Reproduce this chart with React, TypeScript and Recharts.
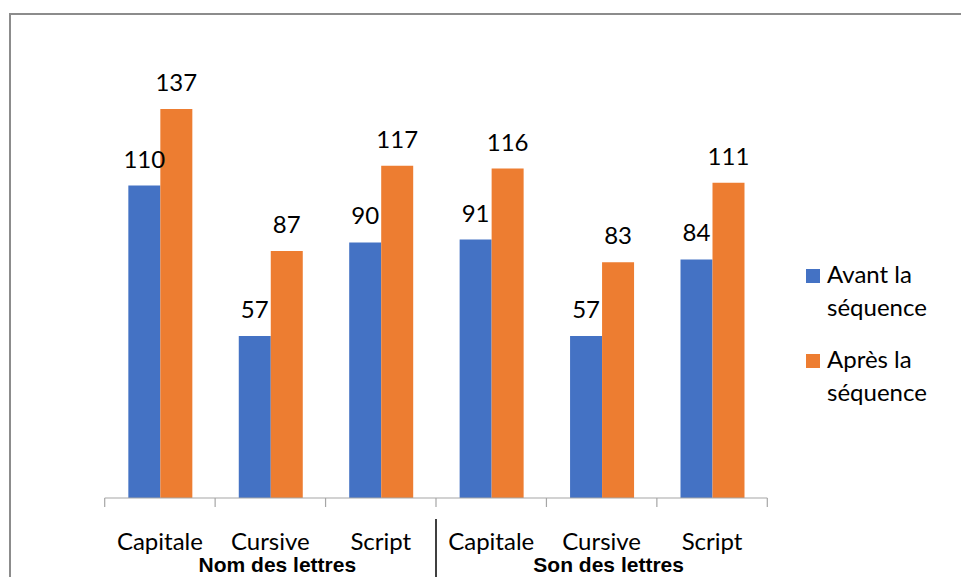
import React from 'react';
import { BarChart, Bar, XAxis, YAxis, LabelList } from 'recharts';

const categories = ['Capitale', 'Cursive', 'Script', 'Capitale', 'Cursive', 'Script'];
const groups = ['Nom des lettres', 'Son des lettres'];
const avant = [110, 57, 90, 91, 57, 84];
const apres = [137, 87, 117, 116, 83, 111];
const seriesNames = ['Avant la séquence', 'Après la séquence'];
const colors = ['#4472C4', '#ED7D31'];

const data = categories.map((c, i) => ({ cat: c, avant: avant[i], apres: apres[i] }));

const FONT = 'Lato, "Open Sans", sans-serif';

const CategoryTick = (props: any) => {
  const { x, y, payload, index } = props;
  const half = payload.offset || 0;
  const last = categories.length - 1;
  const groupIdx = Math.floor(index / 3);
  return (
    <g>
      <line x1={x - half} y1={y} x2={x - half} y2={y + 9} stroke="#a6a6a6" strokeWidth={1.2} />
      {index === last && (
        <line x1={x + half} y1={y} x2={x + half} y2={y + 9} stroke="#a6a6a6" strokeWidth={1.2} />
      )}
      <text x={x} y={y + 52} textAnchor="middle" fontSize={24} fontFamily={FONT} fill="#000">
        {payload.value}
      </text>
      {index % 3 === 1 && (
        <text
          x={x + 7}
          y={y + 74}
          textAnchor="middle"
          fontSize={21}
          fontWeight="bold"
          fontFamily='"Liberation Sans", Arial, sans-serif'
          fill="#000"
        >
          {groups[groupIdx]}
        </text>
      )}
      {index === 3 && (
        <line x1={x - half} y1={y + 21} x2={x - half} y2={y + 90} stroke="#000" strokeWidth={1.5} />
      )}
    </g>
  );
};

const LegendBox = () => (
  <div
    style={{
      position: 'absolute',
      left: 806,
      top: 257,
      width: 150,
      fontFamily: FONT,
      fontSize: 24,
      color: '#000',
    }}
  >
    {seriesNames.map((n, i) => {
      const words = n.split(' ');
      const l1 = words.slice(0, 2).join(' ');
      const l2 = words.slice(2).join(' ');
      return (
        <div key={n} style={{ position: 'relative', paddingLeft: 21, lineHeight: '33px', marginBottom: 19 }}>
          <div
            style={{ position: 'absolute', left: 0, top: 12, width: 14, height: 14, background: colors[i] }}
          />
          <div>{l1}</div>
          <div>{l2}</div>
        </div>
      );
    })}
  </div>
);

export default function App() {
  return (
    <div style={{ position: 'absolute', left: 0, top: 0, width: 961, height: 577, overflow: 'hidden', background: '#fff' }}>
      <div
        style={{
          position: 'absolute',
          left: 9,
          top: 13,
          width: 960,
          height: 580,
          border: '2px solid #8c8c8c',
          boxSizing: 'border-box',
        }}
      />
      <div style={{ position: 'absolute', left: 0, top: 0 }}>
        <BarChart
          width={961}
          height={577}
          data={data}
          margin={{ top: 43.6, right: 193.7, bottom: 9, left: 104.7 }}
          barCategoryGap="21.4%"
          barGap={0}
        >
          <XAxis
            dataKey="cat"
            height={70}
            axisLine={{ stroke: '#a6a6a6', strokeWidth: 1.2 }}
            tickLine={false}
            tickSize={0}
            tickMargin={0}
            interval={0}
            tick={<CategoryTick />}
          />
          <YAxis hide domain={[0, 160]} />
          <Bar dataKey="avant" name={seriesNames[0]} fill={colors[0]} isAnimationActive={false}>
            <LabelList dataKey="avant" position="top" offset={18} fontSize={24} fontFamily={FONT} fill="#000" />
          </Bar>
          <Bar dataKey="apres" name={seriesNames[1]} fill={colors[1]} isAnimationActive={false}>
            <LabelList dataKey="apres" position="top" offset={18} fontSize={24} fontFamily={FONT} fill="#000" />
          </Bar>
        </BarChart>
      </div>
      <LegendBox />
    </div>
  );
}
